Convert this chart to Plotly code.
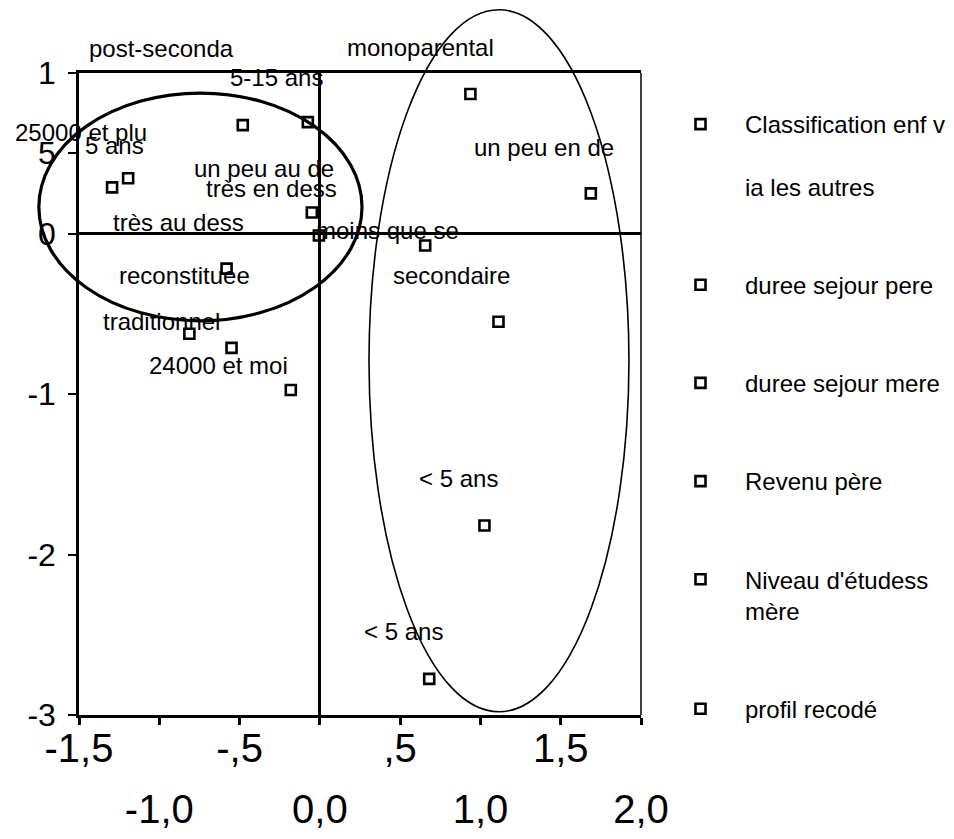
import plotly.graph_objects as go

# ---------------- data ----------------
series_names = [
    "Classification enf v<br><br>ia les autres",
    "duree sejour pere",
    "duree sejour mere",
    "Revenu père",
    "Niveau d'étudess<br>mère",
    "profil recodé",
]

# points for each series (dimension 1, dimension 2)
classif_x = [-0.075, -0.05, -1.194, -0.006, 1.6875]
classif_y = [0.694, 0.131, 0.344, -0.0125, 0.25]
classif_lab = ["un peu au de", "très en dess", "très au dess", "moins que se", "un peu en de"]

pere_x = [-0.181, 1.025]
pere_y = [-0.975, -1.819]
pere_lab = ["5-15 ans", "< 5 ans"]

mere_x = [1.1125, 0.681]
mere_y = [-0.55, -2.775]
mere_lab = ["5 ans", "< 5 ans"]

revenu_x = [-1.294, -0.55]
revenu_y = [0.2875, -0.7125]
revenu_lab = ["25000 et plu", "24000 et moi"]

niveau_x = [-0.48, 0.656]
niveau_y = [0.675, -0.075]
niveau_lab = ["post-seconda", "secondaire"]

profil_x = [0.9375, -0.581, -0.8125]
profil_y = [0.869, -0.219, -0.625]
profil_lab = ["monoparental", "reconstituee", "traditionnel"]

# where each category label is printed (data units)
classif_lab_pos = [(-0.35, 0.406), (-0.30, 0.281), (-0.881, 0.069), (0.419, 0.019), (1.394, 0.5375)]
pere_lab_pos = [(-0.269, 0.969), (0.8625, -1.525)]
mere_lab_pos = [(-1.28, 0.55), (0.519, -2.48)]
revenu_lab_pos = [(-1.4875, 0.631), (-0.631, -0.825)]
niveau_lab_pos = [(-0.9875, 1.15), (0.819, -0.2625)]
profil_lab_pos = [(0.625, 1.156), (-0.844, -0.2625), (-0.9875, -0.55)]

x_ticks_odd = [-1.5, -0.5, 0.5, 1.5]
x_ticks_odd_text = ["-1,5", "-,5", ",5", "1,5"]
x_ticks_even = [-1.0, 0.0, 1.0, 2.0]
x_ticks_even_text = ["-1,0", "0,0", "1,0", "2,0"]
y_ticks = [1, 0.5, 0, -1, -2, -3]
y_ticks_text = ["1", "5", "0", "-1", "-2", "-3"]

X_RANGE = [-1.5, 2.0]
Y_RANGE = [-3.0, 1.0]

# ellipses drawn by hand on the map (data units: x0, x1, y0, y1)
ellipse_left = (-1.75, 0.2625, -0.544, 0.875)
ellipse_right = (0.306, 1.925, -2.98, 1.394)

# ---------------- figure ----------------
FONT = "Arial, Liberation Sans, sans-serif"
fig = go.Figure()


def px(v):
    return (v - X_RANGE[0]) / (X_RANGE[1] - X_RANGE[0])


def py(v):
    return (v - Y_RANGE[0]) / (Y_RANGE[1] - Y_RANGE[0])


all_series = [
    (classif_x, classif_y, classif_lab, classif_lab_pos),
    (pere_x, pere_y, pere_lab, pere_lab_pos),
    (mere_x, mere_y, mere_lab, mere_lab_pos),
    (revenu_x, revenu_y, revenu_lab, revenu_lab_pos),
    (niveau_x, niveau_y, niveau_lab, niveau_lab_pos),
    (profil_x, profil_y, profil_lab, profil_lab_pos),
]

annotations = []
for name, (xs, ys, labs, lpos) in zip(series_names, all_series):
    fig.add_trace(go.Scatter(
        x=xs, y=ys, mode="markers", name=name, legendgroup=name,
        text=labs, cliponaxis=False,
        marker=dict(symbol="square-open", size=10, color="black",
                    line=dict(width=2.6, color="black")),
    ))
    for lab, (lx, ly) in zip(labs, lpos):
        annotations.append(dict(x=px(lx), y=py(ly), xref="paper", yref="paper", text=lab,
                                showarrow=False, xanchor="center", yanchor="middle",
                                font=dict(family=FONT, size=24, color="black")))

# dummy trace to carry the second (staggered) row of x tick labels
fig.add_trace(go.Scatter(x=[], y=[], xaxis="x2", yaxis="y", showlegend=False,
                         hoverinfo="skip"))

shapes = []
for (x0, x1, y0, y1), w in [(ellipse_left, 3.2), (ellipse_right, 1.6)]:
    shapes.append(dict(type="circle", xref="paper", yref="paper",
                       x0=px(x0), x1=px(x1), y0=py(y0), y1=py(y1),
                       line=dict(color="black", width=w), layer="above"))
# thin right frame line
shapes.append(dict(type="line", xref="paper", yref="paper", x0=1, x1=1, y0=0, y1=1,
                   line=dict(color="black", width=1.5)))

# the page body adds an 8 px offset, so the figure is 8 px smaller
FIG_W, FIG_H = 946, 831

fig.update_layout(
    width=FIG_W, height=FIG_H,
    margin=dict(l=71, r=313, t=65, b=124, autoexpand=False),
    paper_bgcolor="white", plot_bgcolor="white",
    font=dict(family=FONT, color="black"),
    showlegend=True,
    legend=dict(
        xref="container", yref="container", x=648 / FIG_W, y=1 - 94 / FIG_H,
        xanchor="left", yanchor="top",
        font=dict(family=FONT, size=24, color="black"),
        valign="top", tracegroupgap=64, itemwidth=79,
        maxheight=1.0,
        bgcolor="rgba(0,0,0,0)",
    ),
    xaxis=dict(
        range=X_RANGE, tickmode="array", automargin=False,
        tickvals=x_ticks_odd + x_ticks_even,
        ticktext=x_ticks_odd_text + [""] * len(x_ticks_even),
        ticks="outside", ticklen=7, tickwidth=2.5, tickcolor="black",
        showline=True, linewidth=2.5, linecolor="black", mirror=True,
        showgrid=False, zeroline=True, zerolinecolor="black", zerolinewidth=2.5,
        tickfont=dict(family=FONT, size=40, color="black"),
        ticklabelstandoff=-11,
    ),
    xaxis2=dict(
        overlaying="x", matches="x", anchor="y", side="bottom", automargin=False,
        range=X_RANGE, tickmode="array",
        tickvals=x_ticks_even, ticktext=x_ticks_even_text,
        ticks="", showline=False, showgrid=False, zeroline=False,
        tickfont=dict(family=FONT, size=40, color="black"),
        ticklabelstandoff=67,
    ),
    yaxis=dict(
        range=Y_RANGE, tickmode="array", automargin=False,
        tickvals=y_ticks, ticktext=y_ticks_text,
        ticks="outside", ticklen=8, tickwidth=2, tickcolor="black",
        showline=True, linewidth=2.5, linecolor="black",
        showgrid=False, zeroline=True, zerolinecolor="black", zerolinewidth=2.5,
        tickfont=dict(family=FONT, size=32, color="black"),
        ticklabelstandoff=6,
    ),
    shapes=shapes,
    annotations=annotations,
)

fig.write_html("out.html")
